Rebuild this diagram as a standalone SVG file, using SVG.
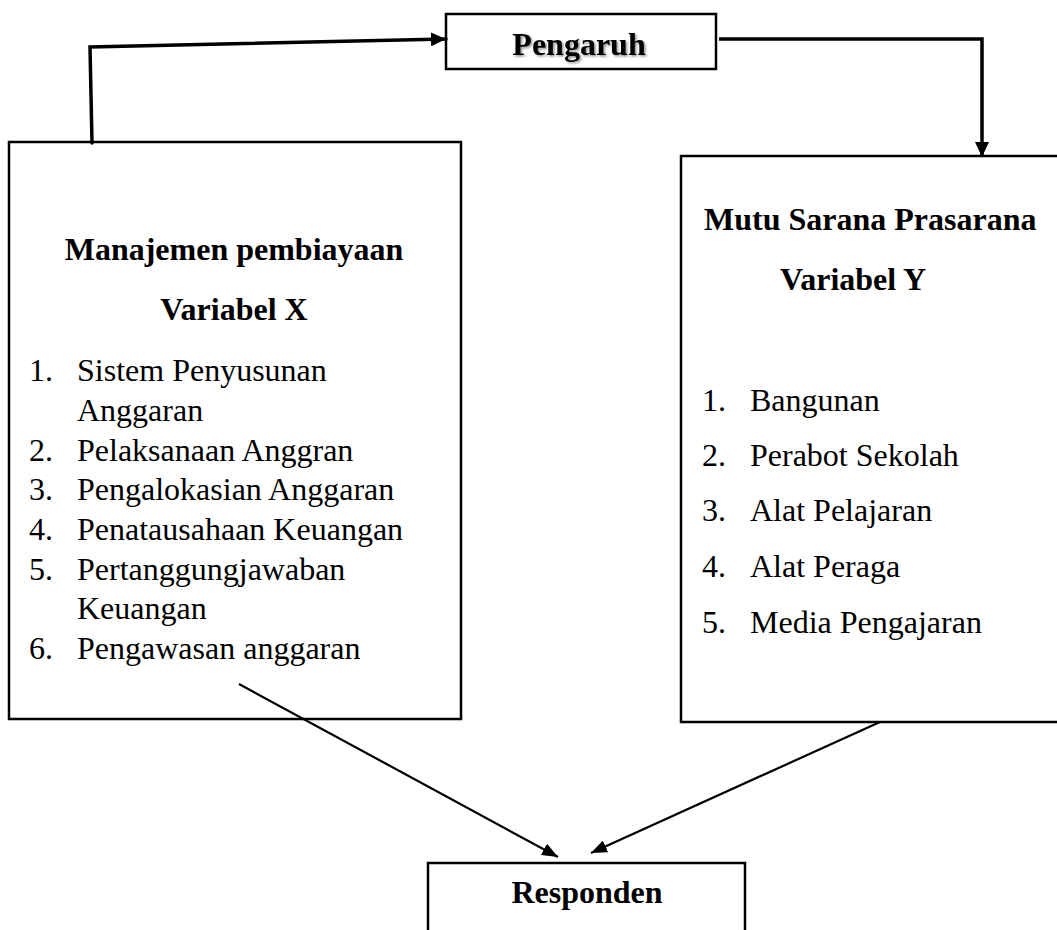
<svg xmlns="http://www.w3.org/2000/svg" width="1057" height="930" viewBox="0 0 1057 930">
<style>
.box{fill:#fff;stroke:#000;stroke-width:2.5}
.t{font-family:"Liberation Serif","Times New Roman",serif;font-size:32px;fill:#000}
.b{font-weight:bold}
.thick{fill:none;stroke:#000;stroke-width:3.5}
.thin{fill:none;stroke:#000;stroke-width:2.2}
</style>
<defs>
<marker id="ab" markerUnits="userSpaceOnUse" markerWidth="15" markerHeight="14" refX="15" refY="7" orient="auto"><path d="M0,0 L15,7 L0,14 z" fill="#000"/></marker>
<marker id="as" markerUnits="userSpaceOnUse" markerWidth="16" markerHeight="13" refX="16" refY="6.5" orient="auto"><path d="M0,0 L16,6.5 L0,13 z" fill="#000"/></marker>
<filter id="sh" x="-10%" y="-30%" width="130%" height="160%"><feDropShadow dx="1.5" dy="1.5" stdDeviation="1.2" flood-color="#000" flood-opacity="0.45"/></filter>
</defs>
<g id="pengaruh">
<rect class="box" x="446" y="14" width="270" height="55"/>
<text class="t b" x="579" y="55" text-anchor="middle" filter="url(#sh)">Pengaruh</text>
</g>
<g id="variabel-x">
<rect class="box" x="9" y="142" width="452" height="577"/>
<text class="t b" x="234" y="260" text-anchor="middle">Manajemen pembiayaan</text>
<text class="t b" x="234" y="320" text-anchor="middle">Variabel X</text>
<text class="t" x="29" y="381">1.</text><text class="t" x="77" y="381">Sistem Penyusunan</text>
<text class="t" x="77" y="421">Anggaran</text>
<text class="t" x="29" y="461">2.</text><text class="t" x="77" y="461">Pelaksanaan Anggran</text>
<text class="t" x="29" y="500">3.</text><text class="t" x="77" y="500">Pengalokasian Anggaran</text>
<text class="t" x="29" y="540">4.</text><text class="t" x="77" y="540">Penatausahaan Keuangan</text>
<text class="t" x="29" y="580">5.</text><text class="t" x="77" y="580">Pertanggungjawaban</text>
<text class="t" x="77" y="619">Keuangan</text>
<text class="t" x="29" y="659">6.</text><text class="t" x="77" y="659">Pengawasan anggaran</text>
</g>
<g id="variabel-y">
<rect class="box" x="681" y="156" width="390" height="566"/>
<text class="t b" x="704" y="230">Mutu Sarana Prasarana</text>
<text class="t b" x="780" y="290">Variabel Y</text>
<text class="t" x="702" y="411">1.</text><text class="t" x="750" y="411">Bangunan</text>
<text class="t" x="702" y="466">2.</text><text class="t" x="750" y="466">Perabot Sekolah</text>
<text class="t" x="702" y="521">3.</text><text class="t" x="750" y="521">Alat Pelajaran</text>
<text class="t" x="702" y="577">4.</text><text class="t" x="750" y="577">Alat Peraga</text>
<text class="t" x="702" y="633">5.</text><text class="t" x="750" y="633">Media Pengajaran</text>
</g>
<g id="responden">
<rect class="box" x="428" y="863" width="317" height="80"/>
<text class="t b" x="587" y="903" text-anchor="middle">Responden</text>
</g>
<g id="connectors">
<path class="thick" d="M92,143 L90,47 L446,39" stroke-linecap="round" marker-end="url(#ab)"/>
<path class="thick" d="M719,39 L982,39 L982,157" marker-end="url(#ab)"/>
<path class="thin" d="M239,684 L558,857" marker-end="url(#as)"/>
<path class="thin" d="M880,722 L591,853" marker-end="url(#as)"/>
</g>
</svg>
